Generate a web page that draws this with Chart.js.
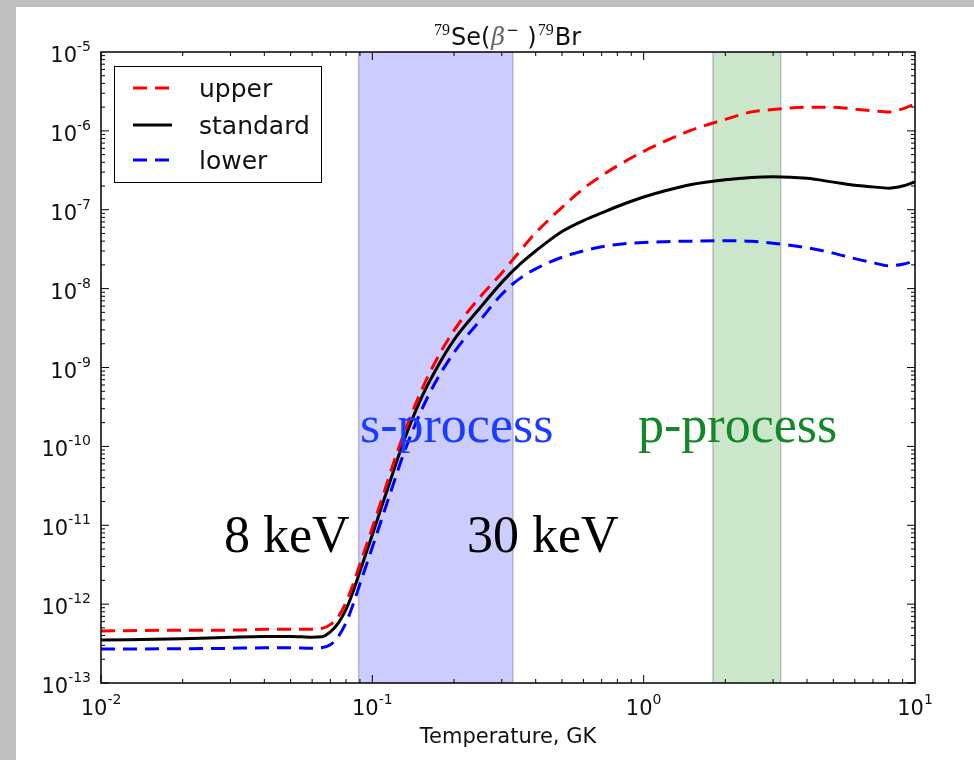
<!DOCTYPE html>
<html>
<head>
<meta charset="utf-8">
<script src="https://cdn.jsdelivr.net/npm/chart.js@4.4.1/dist/chart.umd.min.js"></script>
<style>
  html, body { margin: 0; padding: 0; background: #c0c0c0; }
  canvas { display: block; }
</style>
</head>
<body>
<canvas id="myChart" width="974" height="760"></canvas>
<script>
// temperature grid (GK) and rates
var temps = [0.01, 0.02, 0.03, 0.04, 0.05, 0.06, 0.065, 0.07, 0.075, 0.08, 0.085, 0.09, 0.1, 0.11, 0.12, 0.13,
  0.15, 0.17, 0.2, 0.25, 0.3, 0.35, 0.4, 0.5, 0.6, 0.7, 0.8, 1, 1.2, 1.5, 2, 2.5, 3, 4, 5, 6, 7, 8, 9, 10]

var upper = [4.57e-13, 4.68e-13, 4.68e-13, 4.79e-13, 4.79e-13, 4.79e-13, 4.9e-13, 5.5e-13, 7.0e-13, 1.05e-12,
  1.8e-12, 3.2e-12, 9.3e-12, 2.5e-11, 6.3e-11, 1.38e-10, 4.7e-10, 1.15e-9, 2.95e-9, 7.9e-9, 1.58e-8, 3.0e-8,
  5.1e-8, 1.07e-7, 1.86e-7, 2.7e-7, 3.6e-7, 5.5e-7, 7.4e-7, 1.02e-6, 1.4e-6, 1.74e-6, 1.86e-6, 2.0e-6, 2.0e-6,
  1.88e-6, 1.8e-6, 1.74e-6, 1.9e-6, 2.19e-6]

var standard = [3.50e-13, 3.63e-13, 3.80e-13, 3.89e-13, 3.89e-13, 3.80e-13, 3.85e-13, 4.45e-13, 5.8e-13, 8.6e-13,
  1.45e-12, 2.6e-12, 7.6e-12, 2.04e-11, 5.0e-11, 1.12e-10, 3.8e-10, 8.9e-10, 2.24e-9, 5.75e-9, 1.2e-8, 2.04e-8,
  3.0e-8, 5.3e-8, 7.3e-8, 9.1e-8, 1.1e-7, 1.45e-7, 1.74e-7, 2.09e-7, 2.4e-7, 2.57e-7, 2.62e-7, 2.5e-7, 2.24e-7,
  2.04e-7, 1.95e-7, 1.88e-7, 2.0e-7, 2.26e-7]

var lower = [2.69e-13, 2.72e-13, 2.75e-13, 2.79e-13, 2.79e-13, 2.75e-13, 2.8e-13, 3.05e-13, 3.9e-13, 5.8e-13,
  1.0e-12, 1.8e-12, 5.25e-12, 1.41e-11, 3.47e-11, 7.8e-11, 2.63e-10, 6.3e-10, 1.55e-9, 4.0e-9, 8.5e-9, 1.35e-8,
  1.78e-8, 2.5e-8, 3.0e-8, 3.4e-8, 3.63e-8, 3.85e-8, 3.94e-8, 4.0e-8, 4.05e-8, 3.98e-8, 3.76e-8, 3.3e-8, 2.82e-8,
  2.4e-8, 2.14e-8, 1.95e-8, 2.04e-8, 2.26e-8]

var seriesNames = ['upper', 'standard', 'lower']

var xTicks = [0.01, 0.1, 1, 10]
var xTickExp = ['-2', '-1', '0', '1']
var yTicks = [1e-13, 1e-12, 1e-11, 1e-10, 1e-9, 1e-8, 1e-7, 1e-6, 1e-5]
var yTickExp = ['-13', '-12', '-11', '-10', '-9', '-8', '-7', '-6', '-5']

var sBand = [0.089, 0.33]
var pBand = [1.8, 3.2]

var SANS = '"DejaVu Sans", sans-serif'
var SERIF = '"Liberation Serif", "Times New Roman", serif'

function pts(vals) {
  return temps.map(function (t, i) { return { x: t, y: vals[i] } })
}

// draws "10" with a raised exponent, anchored by its left edge
function powLabel(c, x, base, exp) {
  c.font = '21px ' + SANS
  c.fillText('10', x, base)
  var w = c.measureText('10').width
  c.font = '14px ' + SANS
  c.fillText(exp, x + w, base - 11)
}
function powWidth(c, exp) {
  c.font = '21px ' + SANS
  var w = c.measureText('10').width
  c.font = '14px ' + SANS
  return w + c.measureText(exp).width
}

const decor = {
  id: 'decor',
  beforeDraw(chart) {
    var c = chart.ctx
    c.save()
    c.fillStyle = '#c0c0c0'
    c.fillRect(0, 0, 974, 760)
    c.fillStyle = '#ffffff'
    c.fillRect(16, 7, 958, 753)
    c.restore()
  },
  beforeDatasetsDraw(chart) {
    var c = chart.ctx, a = chart.chartArea, xs = chart.scales.x
    var bands = [[sBand, 'rgba(0,0,255,0.2)'], [pBand, 'rgba(0,128,0,0.2)']]
    c.save()
    bands.forEach(function (b) {
      var x1 = xs.getPixelForValue(b[0][0]), x2 = xs.getPixelForValue(b[0][1])
      c.fillStyle = b[1]
      c.fillRect(x1, a.top, x2 - x1, a.bottom - a.top)
      c.strokeStyle = 'rgba(0,0,0,0.2)'
      c.lineWidth = 1.5
      c.beginPath()
      c.moveTo(x1, a.top); c.lineTo(x1, a.bottom)
      c.moveTo(x2, a.top); c.lineTo(x2, a.bottom)
      c.stroke()
    })
    c.restore()
  },
  afterDatasetsDraw(chart) {
    var c = chart.ctx, a = chart.chartArea
    var xs = chart.scales.x, ys = chart.scales.y
    c.save()

    // annotations
    c.font = '52px ' + SERIF
    c.textBaseline = 'alphabetic'
    c.fillStyle = 'rgb(25,60,255)'
    c.fillText('s-process', 360, 442)
    c.fillStyle = 'rgb(20,135,40)'
    c.fillText('p-process', 638, 442)
    c.fillStyle = '#000'
    c.fillText('8 keV', 224, 552)
    c.fillText('30 keV', 467, 552)

    // frame
    c.strokeStyle = '#000'
    c.lineWidth = 1.5
    c.strokeRect(a.left, a.top, a.right - a.left, a.bottom - a.top)

    // ticks, inward on all four sides
    c.lineWidth = 1
    c.beginPath()
    for (var d = -2; d < 1; d++) {
      for (var m = 1; m < 10; m++) {
        var px = xs.getPixelForValue(m * Math.pow(10, d))
        var len = m == 1 ? 8 : 4
        c.moveTo(px, a.bottom); c.lineTo(px, a.bottom - len)
        c.moveTo(px, a.top); c.lineTo(px, a.top + len)
      }
    }
    for (var d = -13; d < -5; d++) {
      for (var m = 1; m < 10; m++) {
        var py = ys.getPixelForValue(m * Math.pow(10, d))
        var len = m == 1 ? 8 : 4
        c.moveTo(a.left, py); c.lineTo(a.left + len, py)
        c.moveTo(a.right, py); c.lineTo(a.right - len, py)
      }
    }
    c.stroke()

    // tick labels
    c.fillStyle = '#111'
    xTicks.forEach(function (t, i) {
      var px = xs.getPixelForValue(t)
      var w = powWidth(c, xTickExp[i])
      powLabel(c, px - w / 2, 715, xTickExp[i])
    })
    yTicks.forEach(function (t, i) {
      var py = ys.getPixelForValue(t)
      var w = powWidth(c, yTickExp[i])
      powLabel(c, 91 - w, py + 10, yTickExp[i])
    })

    // axis title
    c.font = '21px ' + SANS
    c.textAlign = 'center'
    c.fillText('Temperature, GK', (a.left + a.right) / 2, 743)
    c.textAlign = 'left'

    // title  79Se(β- )79Br
    var runs = [
      ['79', '16px ' + SERIF, -10], ['Se(', '24px ' + SANS, 0], ['\u03b2', 'italic 24px "DejaVu Serif", serif', 0],
      ['\u2212', '15px ' + SANS, -10], [' )', '24px ' + SANS, 0], ['79', '16px ' + SERIF, -10], ['Br', '24px ' + SANS, 0]
    ]
    var total = 0
    runs.forEach(function (r) { c.font = r[1]; total += c.measureText(r[0]).width + 1 })
    var tx = (a.left + a.right) / 2 - total / 2
    runs.forEach(function (r) {
      c.font = r[1]
      c.fillStyle = r[0] == '\u03b2' ? '#666' : '#111'
      c.fillText(r[0], tx, 45 + r[2])
      tx += c.measureText(r[0]).width + 1
    })

    // legend
    c.fillStyle = '#fff'
    c.fillRect(114, 66, 207, 116)
    c.strokeStyle = '#000'
    c.lineWidth = 1
    c.strokeRect(114.5, 66.5, 207, 116)
    var rows = [88, 125, 160]
    chart.data.datasets.forEach(function (ds, i) {
      c.strokeStyle = ds.borderColor
      c.lineWidth = 3
      c.setLineDash(ds.borderDash || [])
      c.beginPath()
      c.moveTo(133, rows[i]); c.lineTo(172, rows[i])
      c.stroke()
      c.setLineDash([])
      c.fillStyle = '#111'
      c.font = '25px ' + SANS
      c.fillText(ds.label, 199, rows[i] + 9)
    })
    c.restore()
  }
}

const ctx = document.getElementById('myChart')

new Chart(ctx, {
  type: 'line',
  data: {
    datasets: [{
      label: seriesNames[0],
      data: pts(upper),
      borderColor: '#ff0000',
      borderDash: [14, 8],
      borderWidth: 3
    }, {
      label: seriesNames[1],
      data: pts(standard),
      borderColor: '#000000',
      borderWidth: 3
    }, {
      label: seriesNames[2],
      data: pts(lower),
      borderColor: '#0000ff',
      borderDash: [14, 8],
      borderWidth: 3
    }]
  },
  options: {
    responsive: false,
    animation: false,
    layout: { padding: { left: 101, top: 52, right: 59, bottom: 77 } },
    elements: {
      point: { radius: 0 },
      line: { cubicInterpolationMode: 'monotone', fill: false }
    },
    plugins: {
      legend: { display: false },
      title: { display: false },
      tooltip: { enabled: false }
    },
    scales: {
      x: { type: 'logarithmic', min: 0.01, max: 10, display: false },
      y: { type: 'logarithmic', min: 1e-13, max: 1e-5, display: false }
    }
  },
  plugins: [decor]
});
</script>
</body>
</html>
